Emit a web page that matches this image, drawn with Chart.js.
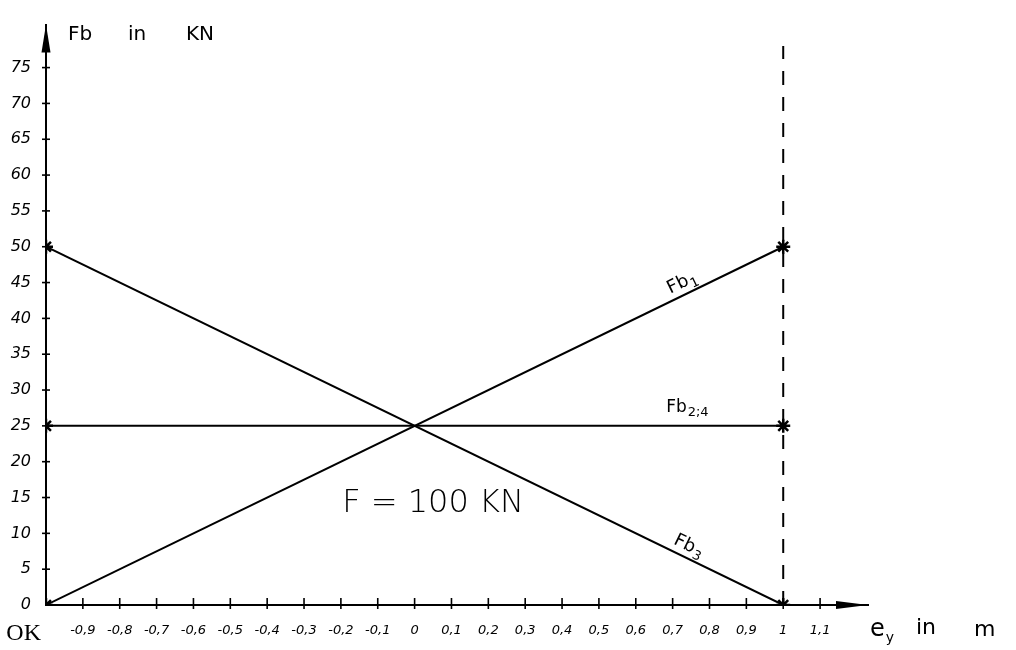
<!DOCTYPE html>
<html><head><meta charset="utf-8">
<script src="https://cdn.jsdelivr.net/npm/chart.js@4"></script>
<style>html,body{margin:0;padding:0;background:#fff}</style>
</head><body>
<canvas id="c" width="1016" height="650"></canvas>
<script>
// ---- data ----
const eyEnds = [-1, 1];          // e_y in m, start and end of each line
const fb1 = [0, 50];             // Fb1 in kN
const fb3 = [50, 0];             // Fb3 in kN
const fb24 = [25, 25];           // Fb2;4 in kN
const limitX = [1, 1];           // dashed limit at e_y = 1 m
const limitY = [0, 78];
const xOriginLabel = 'OK';
const yTickMax = 75;
const xTickMax = 1.1;
const loadText = 'F = 100 KN';

const pts = (xs, ys) => xs.map((x, i) => ({x, y: ys[i]}));

function fmtX(v) {
  const r = Math.round(v * 10) / 10;
  if (Math.abs(r + 1) < 1e-9) return '';   // "OK" drawn left of the origin
  if (Math.abs(r) < 1e-9) return '0';
  if (Math.abs(r - 1) < 1e-9) return '1';
  return r.toFixed(1).replace('.', ',');
}

const crossTicks = {
  id: 'crossTicks',
  afterDraw(chart) {
    const ctx = chart.ctx, xs = chart.scales.x, ys = chart.scales.y;
    const y0 = ys.getPixelForValue(0), x0 = xs.getPixelForValue(-1);
    ctx.save();
    ctx.strokeStyle = '#000'; ctx.lineWidth = 1.6;
    xs.ticks.forEach(t => {
      if (Math.abs(t.value + 1) < 1e-9) return;
      const px = xs.getPixelForValue(t.value);
      ctx.beginPath(); ctx.moveTo(px, y0 - 7); ctx.lineTo(px, y0 + 4); ctx.stroke();
    });
    ys.ticks.forEach(t => {
      if (t.value === 0) return;
      const py = ys.getPixelForValue(t.value);
      ctx.beginPath(); ctx.moveTo(x0 - 4, py); ctx.lineTo(x0 + 4, py); ctx.stroke();
    });
    // arrow heads
    const a = chart.chartArea;
    ctx.fillStyle = '#000';
    ctx.beginPath(); ctx.moveTo(x0, a.top); ctx.lineTo(x0 - 4.5, a.top + 28); ctx.lineTo(x0 + 4.5, a.top + 28); ctx.closePath(); ctx.fill();
    ctx.beginPath(); ctx.moveTo(a.right, y0); ctx.lineTo(a.right - 32, y0 - 4); ctx.lineTo(a.right - 32, y0 + 4); ctx.closePath(); ctx.fill();
    // origin label
    ctx.font = '24px "Liberation Serif"'; ctx.textAlign = 'right'; ctx.textBaseline = 'middle';
    ctx.fillText(xOriginLabel, x0 - 5, y0 + 29);
    ctx.restore();
  }
};

function drawSub(ctx, main, sub, x, y, size, subSize, align) {
  ctx.font = size + 'px "DejaVu Sans"';
  const w1 = ctx.measureText(main).width;
  ctx.font = subSize + 'px "DejaVu Sans"';
  const w2 = ctx.measureText(sub).width;
  let sx = x;
  if (align === 'center') sx = x - (w1 + w2 + 1) / 2;
  ctx.textAlign = 'left'; ctx.textBaseline = 'alphabetic';
  ctx.font = size + 'px "DejaVu Sans"';
  ctx.fillText(main, sx, y);
  ctx.font = subSize + 'px "DejaVu Sans"';
  ctx.fillText(sub, sx + w1 + 1, y + size * 0.25);
}

const labels = {
  id: 'labels',
  afterDraw(chart) {
    const ctx = chart.ctx, xs = chart.scales.x, ys = chart.scales.y, a = chart.chartArea;
    const P = (x, y) => [xs.getPixelForValue(x), ys.getPixelForValue(y)];
    ctx.save();
    ctx.fillStyle = '#000';
    // axis titles
    ctx.font = '20px "DejaVu Sans"'; ctx.textBaseline = 'alphabetic'; ctx.textAlign = 'left';
    ctx.fillText('Fb', a.left + 22, a.top + 15);
    ctx.fillText('in', a.left + 82, a.top + 15);
    ctx.fillText('KN', a.left + 140, a.top + 15);
    drawSub(ctx, 'e', 'y', a.right + 2, 636, 24, 14, 'left');
    ctx.font = '22px "DejaVu Sans"';
    ctx.fillText('in', a.right + 48, 634);
    ctx.fillText('m', a.right + 106, 636);
    // line labels
    const [ax, ay] = P(eyEnds[0], fb1[0]), [bx, by] = P(eyEnds[1], fb1[1]);
    const ang = Math.atan2(by - ay, bx - ax);
    let [px, py] = P(0.74, 25 + 25 * 0.74);
    ctx.save(); ctx.translate(px, py); ctx.rotate(ang);
    drawSub(ctx, 'Fb', '1', 0, -7, 18, 13, 'center'); ctx.restore();
    [px, py] = P(0.74, 25);
    drawSub(ctx, 'Fb', '2;4', px, py - 14, 17, 13, 'center');
    [px, py] = P(0.73, 25 - 25 * 0.73);
    ctx.save(); ctx.translate(px, py); ctx.rotate(-ang);
    drawSub(ctx, 'Fb', '3', 0, -7, 18, 13, 'center'); ctx.restore();
    // load text
    [px, py] = P(0.05, 14.1);
    ctx.font = '300 32px "DejaVu Sans"'; ctx.textAlign = 'center'; ctx.textBaseline = 'middle';
    ctx.fillText(loadText, px, py);
    ctx.restore();
  }
};

const lineDs = (label, data) => ({
  label, data, showLine: true, borderColor: '#000', backgroundColor: '#000',
  borderWidth: 2, pointStyle: 'star', pointRadius: 7, pointBorderWidth: 2.5,
  pointBorderColor: '#000', fill: false, tension: 0
});

new Chart(document.getElementById('c'), {
  type: 'scatter',
  data: {
    datasets: [
      lineDs('Fb1', pts(eyEnds, fb1)),
      lineDs('Fb3', pts(eyEnds, fb3)),
      lineDs('Fb2;4', pts(eyEnds, fb24)),
      { label: 'limit', data: pts(limitX, limitY), showLine: true, borderColor: '#000',
        borderWidth: 2, borderDash: [14, 12], pointRadius: 0 }
    ]
  },
  options: {
    responsive: false, animation: false,
    layout: { padding: { left: 0, right: 148, top: 13, bottom: 0 } },
    plugins: { legend: { display: false }, tooltip: { enabled: false } },
    scales: {
      x: {
        type: 'linear', min: -1, max: 1.23,
        afterFit: s => { s.height = 45; },
        afterBuildTicks: s => { s.ticks = s.ticks.filter(t => t.value <= xTickMax + 1e-9); },
        border: { display: true, color: '#000', width: 2 },
        grid: { drawOnChartArea: false, drawTicks: false },
        ticks: {
          stepSize: 0.1, autoSkip: false, maxRotation: 0, padding: 18, color: '#000',
          callback: v => fmtX(v),
          font: { family: '"DejaVu Sans"', size: 13, style: 'italic' }
        }
      },
      y: {
        type: 'linear', min: 0, max: 81,
        afterFit: s => { s.width = 46; },
        afterBuildTicks: s => { s.ticks = s.ticks.filter(t => t.value <= yTickMax); },
        border: { display: true, color: '#000', width: 2 },
        grid: { drawOnChartArea: false, drawTicks: false },
        ticks: {
          stepSize: 5, padding: 15, color: '#000',
          font: { family: '"DejaVu Sans"', size: 16, style: 'italic' }
        }
      }
    }
  },
  plugins: [crossTicks, labels]
});
</script>
</body></html>
